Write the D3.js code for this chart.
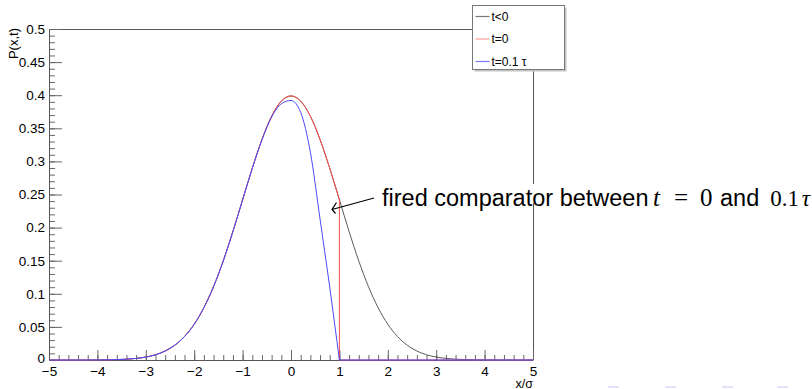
<!DOCTYPE html>
<html>
<head>
<meta charset="utf-8">
<script src="https://cdn.jsdelivr.net/npm/d3@7"></script>
<style>
  body { margin: 0; background: #fff; }
  svg { display: block; font-family: "Liberation Sans", Arial, Helvetica, sans-serif; }
</style>
</head>
<body>
<svg id="chart"></svg>
<script>
const width = 812;
const height = 389;
const margin = { top: 29, right: 279, bottom: 29, left: 49 };

// x/sigma sampling points
const xGrid = [-5, -4.8, -4.6, -4.4, -4.2, -4, -3.8, -3.6, -3.4, -3.2,
  -3, -2.8, -2.6, -2.4, -2.2, -2, -1.8, -1.6, -1.4, -1.2,
  -1, -0.8, -0.6, -0.4, -0.2, 0, 0.2, 0.4, 0.6, 0.8,
  1, 1.2, 1.4, 1.6, 1.8, 2, 2.2, 2.4, 2.6, 2.8,
  3, 3.2, 3.4, 3.6, 3.8, 4, 4.2, 4.4, 4.6, 4.8, 5];

// t<0
const pBefore = [0, 0, 0, 0, 0, 0.0001, 0.0003, 0.0006, 0.0012, 0.0024,
  0.0044, 0.0079, 0.0136, 0.0224, 0.0355, 0.054, 0.079, 0.1109, 0.1497, 0.1942,
  0.242, 0.2897, 0.3332, 0.3683, 0.391, 0.3989, 0.391, 0.3683, 0.3332, 0.2897,
  0.242, 0.1942, 0.1497, 0.1109, 0.079, 0.054, 0.0355, 0.0224, 0.0136, 0.0079,
  0.0044, 0.0024, 0.0012, 0.0006, 0.0003, 0.0001, 0, 0, 0, 0, 0];

// t=0 (cut at the comparator threshold)
const pAtZero = [0, 0, 0, 0, 0, 0.0001, 0.0003, 0.0006, 0.0012, 0.0024,
  0.0044, 0.0079, 0.0136, 0.0224, 0.0355, 0.054, 0.079, 0.1109, 0.1497, 0.1942,
  0.242, 0.2897, 0.3332, 0.3683, 0.391, 0.3989, 0.391, 0.3683, 0.3332, 0.2897,
  0.242, 0, 0, 0, 0, 0, 0, 0, 0, 0,
  0, 0, 0, 0, 0, 0, 0, 0, 0, 0, 0];

// t=0.1 tau
const pLater = [0, 0, 0, 0, 0, 0.0001, 0.0003, 0.0006, 0.0012, 0.0024,
  0.0044, 0.0079, 0.0136, 0.0224, 0.0355, 0.054, 0.079, 0.1109, 0.1497, 0.1942,
  0.242, 0.2895, 0.3325, 0.367, 0.387, 0.392, 0.374, 0.314, 0.213, 0.110,
  0, 0, 0, 0, 0, 0, 0, 0, 0, 0,
  0, 0, 0, 0, 0, 0, 0, 0, 0, 0, 0];

const threshold = 1;

const xTicks = [-5, -4, -3, -2, -1, 0, 1, 2, 3, 4, 5];
const xTickLabels = ['\u22125', '\u22124', '\u22123', '\u22122', '\u22121', '0', '1', '2', '3', '4', '5'];
const yTicks = [0, 0.05, 0.1, 0.15, 0.2, 0.25, 0.3, 0.35, 0.4, 0.45, 0.5];
const yTickLabels = ['0', '0.05', '0.1', '0.15', '0.2', '0.25', '0.3', '0.35', '0.4', '0.45', '0.5'];

const legendLabels = ['t<0', 't=0', 't=0.1 \u03c4'];
const seriesColors = ['#5a5a5a', '#ff4a4a', '#4a4aff'];
const legendColors = ['#777', '#ff9c9c', '#7b7bff'];

const svg = d3.select('#chart')
    .attr('width', width)
    .attr('height', height);

const xScale = d3.scaleLinear()
    .domain([-5, 5])
    .range([margin.left, width - margin.right]);

const yScale = d3.scaleLinear()
    .domain([0, 0.5])
    .range([height - margin.bottom, margin.top]);

const x0 = margin.left, x1 = width - margin.right;
const y0 = height - margin.bottom, y1 = margin.top;

// frame (top + right)
svg.append('path')
    .attr('d', `M${x0},${y1 + 0.5}H${x1 + 0.5}V${y0}`)
    .attr('fill', 'none')
    .attr('stroke', '#555');

// axes, ticks pointing inward like ROOT
function styleAxis(g) {
    g.selectAll('path.domain').attr('stroke', '#555');
    g.selectAll('.tick line').attr('stroke', '#666');
    g.selectAll('.tick text')
        .attr('fill', '#000')
        .style('font-size', '13.5px')
        .style('font-family', '"Liberation Sans", Arial, sans-serif');
}

svg.append('g')
    .attr('transform', `translate(0,${y0})`)
    .call(d3.axisBottom(xScale).tickValues(xScale.ticks(50)).tickSize(-5).tickFormat(''))
    .call(g => g.select('.domain').remove())
    .call(styleAxis);

svg.append('g')
    .attr('transform', `translate(0,${y0})`)
    .call(d3.axisBottom(xScale).tickValues(xTicks).tickSize(-10).tickSizeOuter(0).tickPadding(6)
        .tickFormat((d, i) => xTickLabels[i]))
    .call(styleAxis);

svg.append('g')
    .attr('transform', `translate(${x0},0)`)
    .call(d3.axisLeft(yScale).tickValues(yScale.ticks(50)).tickSize(-6).tickFormat(''))
    .call(g => g.select('.domain').remove())
    .call(styleAxis);

svg.append('g')
    .attr('transform', `translate(${x0},0)`)
    .call(d3.axisLeft(yScale).tickValues(yTicks).tickSize(-13).tickSizeOuter(0).tickPadding(4)
        .tickFormat((d, i) => yTickLabels[i]))
    .call(styleAxis)
    .call(g => g.selectAll('.tick text').attr('dy', (d, i) => i === 0 ? '0.22em' : '0.32em'));

// axis titles
svg.append('text')
    .attr('x', x1)
    .attr('y', 387.5)
    .attr('text-anchor', 'end')
    .style('font-size', '12.5px')
    .text('x/\u03c3');

svg.append('text')
    .attr('transform', `translate(18,${y1 - 1}) rotate(-90)`)
    .attr('text-anchor', 'end')
    .style('font-size', '13px')
    .text('P(x,t)');

// curves
const curve = d3.line()
    .x(d => xScale(d.x))
    .y(d => yScale(d.y))
    .curve(d3.curveMonotoneX);

const straight = d3.line()
    .x(d => xScale(d.x))
    .y(d => yScale(d.y));

const plot = svg.append('g');

function drawSeries(values, color, cut) {
    const pts = xGrid.map((x, i) => ({ x, y: values[i] }));
    if (!cut) {
        plot.append('path')
            .attr('d', curve(pts))
            .attr('fill', 'none')
            .attr('stroke', color)
            .attr('stroke-width', 1);
        return;
    }
    const left = pts.filter(d => d.x <= threshold);
    const right = [left[left.length - 1], { x: threshold, y: 0 }]
        .concat(pts.filter(d => d.x > threshold));
    plot.append('path')
        .attr('d', curve(left))
        .attr('fill', 'none')
        .attr('stroke', color)
        .attr('stroke-width', 1);
    plot.append('path')
        .attr('d', straight(right))
        .attr('fill', 'none')
        .attr('stroke', color)
        .attr('stroke-width', 1);
}

drawSeries(pBefore, seriesColors[0], false);
drawSeries(pAtZero, seriesColors[1], true);
drawSeries(pLater, seriesColors[2], true);

// legend
const lg = svg.append('g').attr('transform', 'translate(472.5,5.5)');
lg.append('rect')
    .attr('x', 2).attr('y', 2)
    .attr('width', 92).attr('height', 64)
    .attr('fill', '#c4c4c4');
lg.append('rect')
    .attr('width', 92).attr('height', 64)
    .attr('fill', '#fff')
    .attr('stroke', '#777');

legendLabels.forEach((label, i) => {
    const yy = 11 + i * 22.5;
    lg.append('line')
        .attr('x1', 3).attr('x2', 17)
        .attr('y1', yy).attr('y2', yy)
        .attr('stroke', legendColors[i])
        .attr('stroke-width', 1.2);
    lg.append('text')
        .attr('x', 19)
        .attr('y', yy)
        .attr('dy', '0.35em')
        .style('font-size', '12px')
        .text(label);
});

// annotation
svg.append('rect')
    .attr('x', 380).attr('y', 184)
    .attr('width', 432).attr('height', 19)
    .attr('fill', '#fff');

const serif = '"Liberation Serif", "DejaVu Serif", serif';
const noteY = 206;
const noteParts = [
    { x: 382, text: 'fired comparator between', font: null, italic: false, size: 23.5, anchor: 'start' },
    { x: 653, text: 't', font: serif, italic: true, size: 25, anchor: 'start' },
    { x: 674, text: '=', font: serif, italic: false, size: 25, anchor: 'start' },
    { x: 700, text: '0', font: serif, italic: false, size: 25, anchor: 'start' },
    { x: 720, text: 'and', font: null, italic: false, size: 23.5, anchor: 'start' },
    { x: 799, text: '0.1', font: serif, italic: false, size: 23, anchor: 'end' },
    { x: 810, text: '\u03c4', font: serif, italic: true, size: 23, anchor: 'end' }
];
svg.append('g').selectAll('text')
    .data(noteParts)
    .enter()
    .append('text')
    .attr('x', d => d.x)
    .attr('y', noteY)
    .attr('text-anchor', d => d.anchor)
    .style('font-size', d => d.size + 'px')
    .style('font-family', d => d.font)
    .style('font-style', d => d.italic ? 'italic' : null)
    .text(d => d.text);

svg.append('path')
    .attr('d', 'M374,198L332,209.5M336.5,202.5L332,209.5L335.5,213.5')
    .attr('fill', 'none')
    .attr('stroke', '#000')
    .attr('stroke-width', 1.2);

// faint slide navigation marks at bottom right
const navX = [608, 665, 722, 777];
svg.append('g').selectAll('rect')
    .data(navX)
    .enter()
    .append('rect')
    .attr('x', d => d)
    .attr('y', 386)
    .attr('width', 11)
    .attr('height', 2)
    .attr('fill', '#e2e2f8');
</script>
</body>
</html>
